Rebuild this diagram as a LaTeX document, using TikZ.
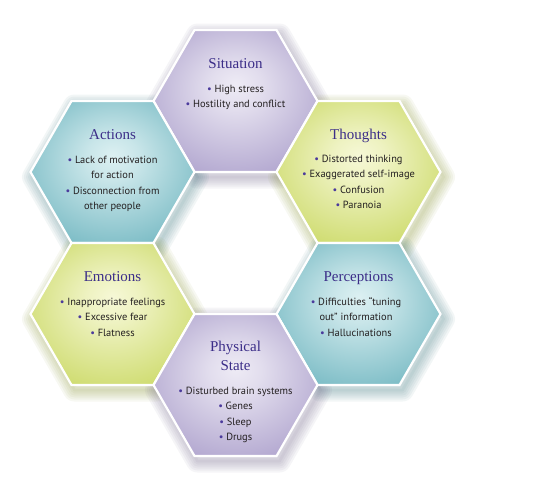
\documentclass[tikz,border=0pt]{standalone}
\usepackage{fontspec}
\setsansfont{PT Sans}
\newfontfamily\ttlfont{Liberation Serif}
\definecolor{purpIn}{HTML}{EEEBF5}
\definecolor{purpOut}{HTML}{9E90C3}
\definecolor{tealIn}{HTML}{DCF0F2}
\definecolor{tealOut}{HTML}{5AAAB6}
\definecolor{greenIn}{HTML}{F6F8D6}
\definecolor{greenOut}{HTML}{C1D24C}
\definecolor{titleC}{HTML}{3B2D88}
\definecolor{bodyC}{HTML}{231F20}
\definecolor{bulC}{HTML}{4B3A9C}
\pgfdeclareradialshading{purpshade}{\pgfpoint{0bp}{6bp}}{color(0bp)=(purpIn); color(8bp)=(purpIn!85!purpOut); color(40bp)=(purpOut); color(50bp)=(purpOut)}
\pgfdeclareradialshading{tealshade}{\pgfpoint{0bp}{6bp}}{color(0bp)=(tealIn); color(8bp)=(tealIn!85!tealOut); color(40bp)=(tealOut); color(50bp)=(tealOut)}
\pgfdeclareradialshading{greenshade}{\pgfpoint{0bp}{6bp}}{color(0bp)=(greenIn); color(8bp)=(greenIn!85!greenOut); color(40bp)=(greenOut); color(50bp)=(greenOut)}
\newcommand\hexat[2]{(#1-82,#2) -- (#1-41,#2-71) -- (#1+41,#2-71) -- (#1+82,#2) -- (#1+41,#2+71) -- (#1-41,#2+71) -- cycle}
\newcommand\hexshadow[3]{%
  \foreach \w in {3,7,11,15,19,23}{%
    \draw[line width=\w pt, line join=round, draw=#3!70!black, opacity=0.065] \hexat{#1+3}{#2+5};}}
\newcommand\hexfill[3]{%
  \shade[shading=#3] \hexat{#1}{#2};
  \draw[white, line width=2.2pt, line join=miter] \hexat{#1}{#2};}
\newcommand\bl{{\color{bulC}\textbullet}\ }
\newcommand\fl{\rule{0pt}{8pt}}
\tikzset{
  ttl/.style={font=\ttlfont\fontsize{15}{19.5}\selectfont, text=titleC, align=center, inner sep=0pt},
  body/.style={font=\sffamily\fontsize{10.4}{15.5}\selectfont, text=bodyC, align=center, anchor=north, inner sep=0pt},
}
\begin{document}
\begin{tikzpicture}[x=1pt,y=-1pt]
\useasboundingbox (0,0) rectangle (540,488);
% shadows
\hexshadow{235.5}{101}{purpOut}
\hexshadow{112.5}{172}{tealOut}
\hexshadow{358.5}{172}{greenOut}
\hexshadow{112.5}{314}{greenOut}
\hexshadow{358.5}{314}{tealOut}
\hexshadow{235.5}{385}{purpOut}
% hexagons
\hexfill{235.5}{101}{purpshade}
\hexfill{112.5}{172}{tealshade}
\hexfill{358.5}{172}{greenshade}
\hexfill{112.5}{314}{greenshade}
\hexfill{358.5}{314}{tealshade}
\hexfill{235.5}{385}{purpshade}
% Situation
\node[ttl, anchor=base] (sitT) at (235.5,68) {Situation};
\node[body] (sitB) at (235.5,84) {\fl\bl High stress\\\bl Hostility and conflict};
% Actions
\node[ttl, anchor=base] (actT) at (112.5,139) {Actions};
\node[body] (actB) at (112.5,155) {\fl\bl Lack of motivation\\for action\\\bl Disconnection from\\other people};
% Thoughts
\node[ttl, anchor=base] (thoT) at (358.5,139) {Thoughts};
\node[body] (thoB) at (358.5,154) {\fl\bl Distorted thinking\\\bl Exaggerated self-image\\\bl Confusion\\\bl Paranoia};
% Emotions
\node[ttl, anchor=base] (emoT) at (112.5,281) {Emotions};
\node[body] (emoB) at (112.5,297) {\fl\bl Inappropriate feelings\\\bl Excessive fear\\\bl Flatness};
% Perceptions
\node[ttl, anchor=base] (perT) at (358.5,281) {Perceptions};
\node[body] (perB) at (356,297) {\fl\bl Difficulties “tuning\\out” information\\\bl Hallucinations};
% Physical State
\node[ttl, anchor=north] (phyT) at (235.5,340.5) {\rule{0pt}{10pt}Physical\\State};
\node[body] (phyB) at (235.5,386) {\fl\bl Disturbed brain systems\\\bl Genes\\\bl Sleep\\\bl Drugs};
\end{tikzpicture}
\end{document}
